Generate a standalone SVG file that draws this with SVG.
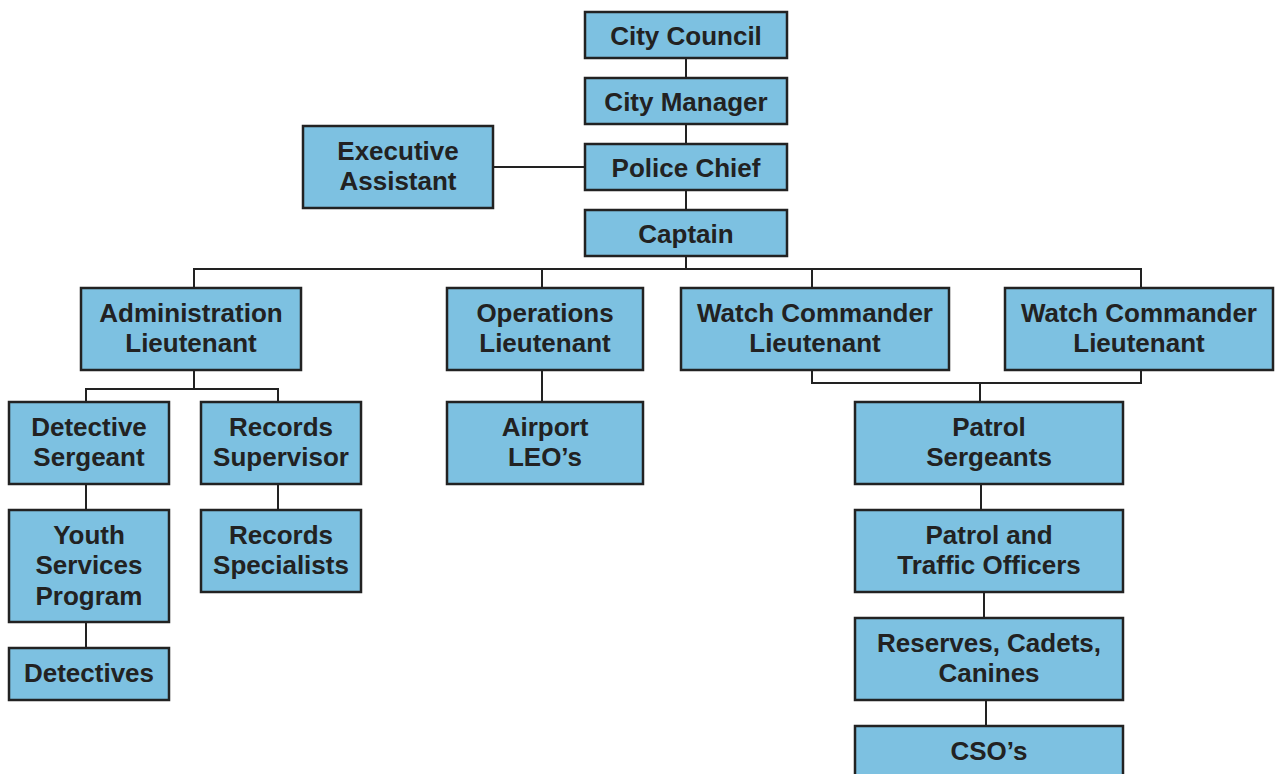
<svg xmlns="http://www.w3.org/2000/svg" width="1280" height="774" viewBox="0 0 1280 774">
<style>
.b{fill:#7dc1e1;stroke:#222;stroke-width:2.5}
.t{font-family:"Liberation Sans",Arial,sans-serif;font-weight:bold;font-size:26px;fill:#222;text-anchor:middle}
.c{fill:none;stroke:#222;stroke-width:2}
</style>
<rect width="1280" height="774" fill="#fff"/>
<g id="connectors">
<path class="c" d="M686 58V78M686 124V144M686 190V210M686 256V269M493 167H585"/>
<path class="c" d="M194 288V269H1141V288M542 269V288M812 269V288"/>
<path class="c" d="M194 370V389M86 402V389H278V402M86 484V510M86 622V648M278 484V510"/>
<path class="c" d="M542 370V402"/>
<path class="c" d="M812 370V383H1141V370M980 383V402M981 484V510M984 592V618M986 700V726"/>
</g>
<g id="city-council"><rect class="b" x="585" y="12" width="202" height="46"/><text class="t" x="686" y="45">City Council</text></g>
<g id="city-manager"><rect class="b" x="585" y="78" width="202" height="46"/><text class="t" x="686" y="111">City Manager</text></g>
<g id="police-chief"><rect class="b" x="585" y="144" width="202" height="46"/><text class="t" x="686" y="177">Police Chief</text></g>
<g id="captain"><rect class="b" x="585" y="210" width="202" height="46"/><text class="t" x="686" y="243">Captain</text></g>
<g id="executive-assistant"><rect class="b" x="303" y="126" width="190" height="82"/><text class="t" x="398" y="160">Executive</text><text class="t" x="398" y="190">Assistant</text></g>
<g id="admin-lt"><rect class="b" x="81" y="288" width="220" height="82"/><text class="t" x="191" y="322">Administration</text><text class="t" x="191" y="352">Lieutenant</text></g>
<g id="operations-lt"><rect class="b" x="447" y="288" width="196" height="82"/><text class="t" x="545" y="322">Operations</text><text class="t" x="545" y="352">Lieutenant</text></g>
<g id="watch-lt-1"><rect class="b" x="681" y="288" width="268" height="82"/><text class="t" x="815" y="322">Watch Commander</text><text class="t" x="815" y="352">Lieutenant</text></g>
<g id="watch-lt-2"><rect class="b" x="1005" y="288" width="268" height="82"/><text class="t" x="1139" y="322">Watch Commander</text><text class="t" x="1139" y="352">Lieutenant</text></g>
<g id="detective-sergeant"><rect class="b" x="9" y="402" width="160" height="82"/><text class="t" x="89" y="436">Detective</text><text class="t" x="89" y="466">Sergeant</text></g>
<g id="records-supervisor"><rect class="b" x="201" y="402" width="160" height="82"/><text class="t" x="281" y="436">Records</text><text class="t" x="281" y="466">Supervisor</text></g>
<g id="youth-services"><rect class="b" x="9" y="510" width="160" height="112"/><text class="t" x="89" y="544">Youth</text><text class="t" x="89" y="574">Services</text><text class="t" x="89" y="605">Program</text></g>
<g id="records-specialists"><rect class="b" x="201" y="510" width="160" height="82"/><text class="t" x="281" y="544">Records</text><text class="t" x="281" y="574">Specialists</text></g>
<g id="detectives"><rect class="b" x="9" y="648" width="160" height="52"/><text class="t" x="89" y="682">Detectives</text></g>
<g id="airport-leos"><rect class="b" x="447" y="402" width="196" height="82"/><text class="t" x="545" y="436">Airport</text><text class="t" x="545" y="466">LEO’s</text></g>
<g id="patrol-sergeants"><rect class="b" x="855" y="402" width="268" height="82"/><text class="t" x="989" y="436">Patrol</text><text class="t" x="989" y="466">Sergeants</text></g>
<g id="patrol-traffic"><rect class="b" x="855" y="510" width="268" height="82"/><text class="t" x="989" y="544">Patrol and</text><text class="t" x="989" y="574">Traffic Officers</text></g>
<g id="reserves"><rect class="b" x="855" y="618" width="268" height="82"/><text class="t" x="989" y="652">Reserves, Cadets,</text><text class="t" x="989" y="682">Canines</text></g>
<g id="csos"><rect class="b" x="855" y="726" width="268" height="60"/><text class="t" x="989" y="760">CSO’s</text></g>
</svg>
